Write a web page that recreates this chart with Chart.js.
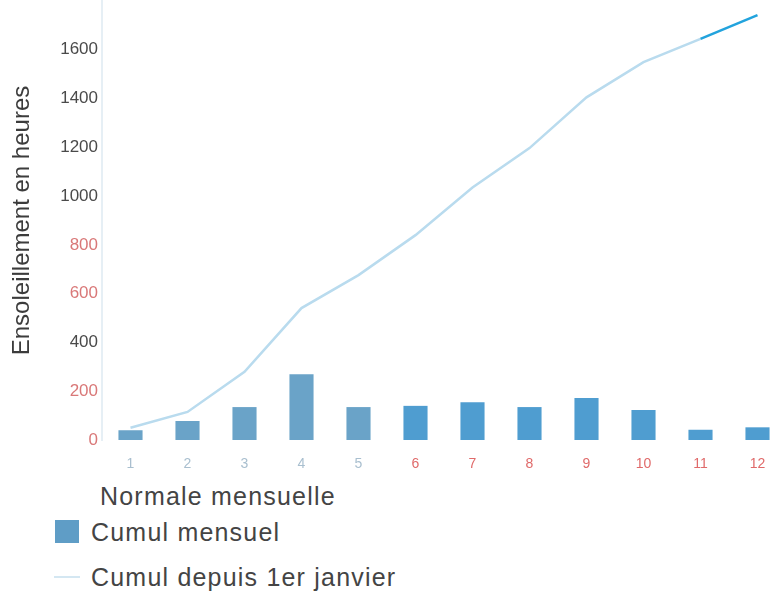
<!DOCTYPE html>
<html>
<head>
<meta charset="utf-8">
<script src="https://cdn.jsdelivr.net/npm/chart.js@4"></script>
<style>
  html, body { margin: 0; padding: 0; background: #fff; overflow: hidden; }
  body { width: 771px; height: 594px; position: relative; font-family: "Liberation Sans", Arial, sans-serif; }
  #wrap { position: absolute; left: 0; top: 0; width: 790px; height: 475px; }
  .legend { position: absolute; left: 0; top: 478px; color: #444; font-size: 25px; letter-spacing: 1.2px; }
  .lg-row { position: absolute; white-space: nowrap; height: 30px; line-height: 30px; }
  .lg-box { position: absolute; left: 55px; top: 3px; width: 24px; height: 23px; background: #5f9dc6; }
  .lg-line { position: absolute; left: 54px; top: 14px; width: 26px; height: 2px; background: #d4e7f2; }
</style>
</head>
<body>
<div id="wrap"><canvas id="sunChart" width="790" height="475"></canvas></div>
<div class="legend">
  <div class="lg-row" style="left:100px; top:3px;">Normale mensuelle</div>
  <div class="lg-row" style="left:0; top:39px;"><span class="lg-box"></span><span style="margin-left:91px">Cumul mensuel</span></div>
  <div class="lg-row" style="left:0; top:84px;"><span class="lg-line"></span><span style="margin-left:91px">Cumul depuis 1er janvier</span></div>
</div>
<script>
const months = ['1', '2', '3', '4', '5', '6', '7', '8', '9', '10', '11', '12'];
const cumulMensuel = [40, 78, 135, 270, 135, 140, 155, 135, 172, 123, 42, 52];
const cumulAnnuel = [50, 115, 280, 541, 676, 840, 1035, 1197, 1405, 1549, 1645, 1742];
const yTicks = [0, 200, 400, 600, 800, 1000, 1200, 1400, 1600];

const redTicks = [0, 200, 600, 800];

new Chart(document.getElementById('sunChart'), {
  data: {
    labels: months,
    datasets: [
      {
        type: 'line',
        label: 'Cumul depuis 1er janvier',
        data: cumulAnnuel,
        borderColor: '#b9dbee',
        borderWidth: 2.5,
        pointRadius: 0,
        tension: 0,
        segment: {
          borderColor: ctx => ctx.p1DataIndex === 11 ? '#22a3dd' : undefined,
        },
        order: 0,
      },
      {
        type: 'bar',
        label: 'Cumul mensuel',
        data: cumulMensuel,
        backgroundColor: months.map((m, i) => i < 5 ? '#6aa3c8' : '#4f9dd0'),
        barPercentage: 0.9,
        categoryPercentage: 0.47,
        order: 1,
      },
    ]
  },
  options: {
    responsive: false,
    animation: false,
    layout: { padding: { top: 1, right: 4, left: 0, bottom: 0 } },
    plugins: {
      legend: { display: false },
      tooltip: { enabled: false },
    },
    scales: {
      x: {
        grid: { display: false, drawTicks: false },
        border: { display: false },
        ticks: {
          padding: 16,
          font: { family: 'Liberation Sans', size: 14 },
          color: ctx => ctx.index >= 5 ? '#e06a6a' : '#a9bfcf',
        },
        afterFit: s => { s.height = 35; s.paddingLeft = 0; s.paddingRight = 0; },
      },
      y: {
        min: 0,
        max: 1800,
        afterBuildTicks: s => { s.ticks = yTicks.map(v => ({ value: v })); },
        grid: { display: false, drawTicks: false },
        border: { color: '#e6eff5', width: 2 },
        ticks: {
          padding: 4,
          font: { family: 'Liberation Sans', size: 17 },
          color: ctx => redTicks.includes(ctx.tick.value) ? '#d97878' : '#4a4a4a',
          callback: v => String(v),
        },
        title: {
          display: true,
          text: 'Ensoleillement en heures',
          color: '#3c3c3c',
          font: { family: 'Liberation Sans', size: 24 },
          padding: { top: 8, bottom: 4 },
        },
        afterFit: s => { s.width = 102; s.paddingTop = 0; s.paddingBottom = 0; },
      },
    },
  },
});
</script>
</body>
</html>
